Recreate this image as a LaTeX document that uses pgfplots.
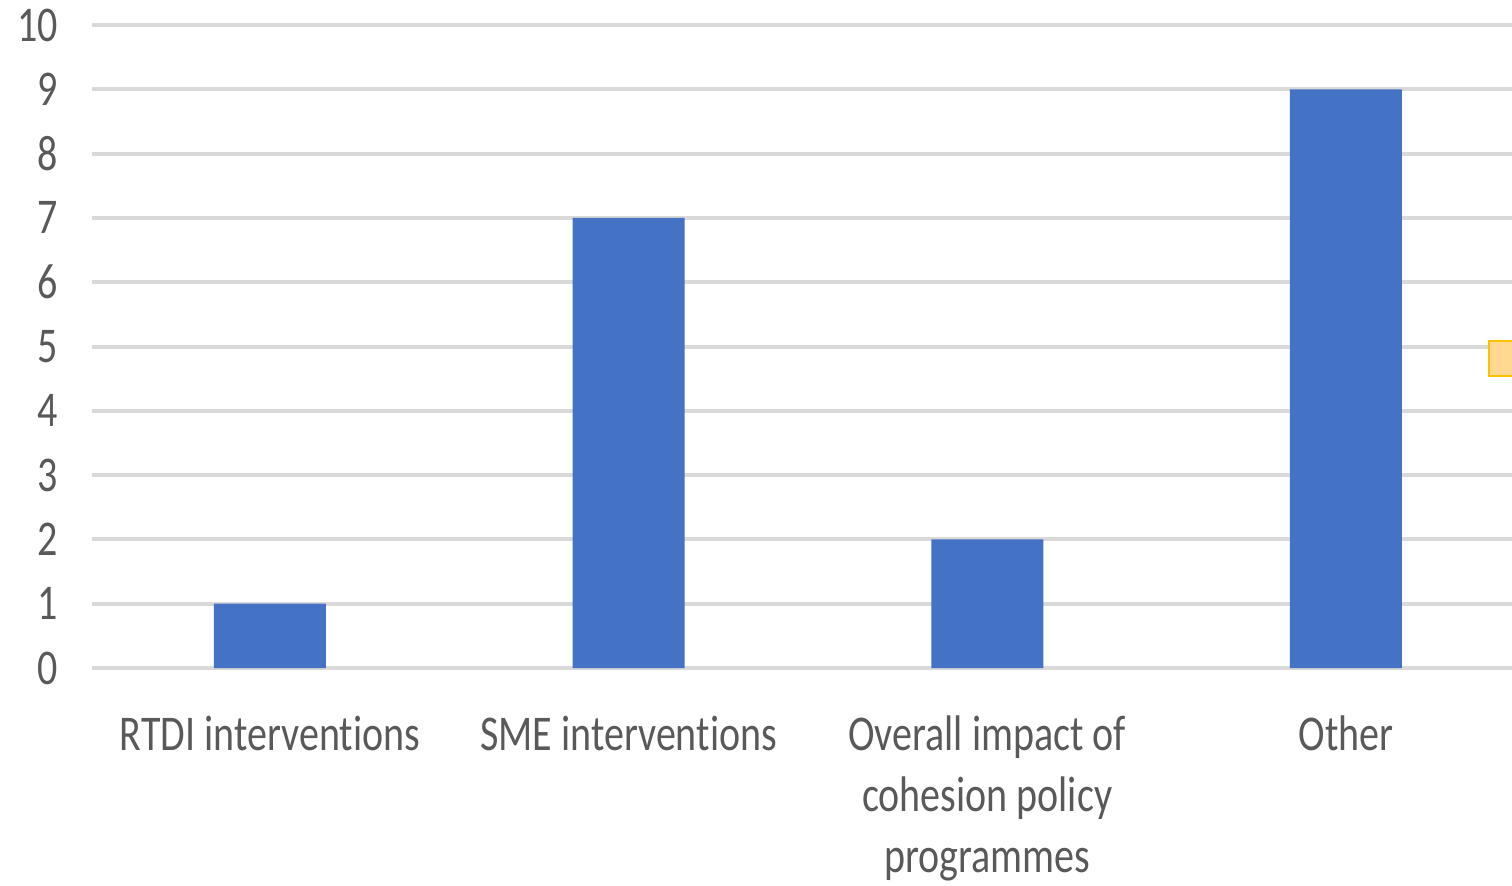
\documentclass[border=0pt]{standalone}
\usepackage{fontspec}
\setmainfont{Carlito}[FakeStretch=0.8, Ligatures=NoCommon]
\usepackage{pgfplots}
\pgfplotsset{compat=1.18}
\usetikzlibrary{calc}
\definecolor{barblue}{HTML}{4472C4}
\definecolor{gridgray}{HTML}{D9D9D9}
\definecolor{txtgray}{HTML}{595959}
\definecolor{legfill}{HTML}{FFD98F}
\definecolor{legedge}{HTML}{FFC000}
\begin{document}
\begin{tikzpicture}
\begin{axis}[
  scale only axis,
  width=710pt, height=321.5pt,
  xmin=-0.496, xmax=3.463,
  ymin=0, ymax=10,
  ytick={0,1,...,10},
  xtick={0,1,2,3},
  xticklabels={RTDI interventions, SME interventions, {Overall impact of\\cohesion policy\\programmes}, Other},
  axis line style={draw=none},
  tick style={draw=none},
  ymajorgrids,
  grid style={gridgray, line width=2pt},
  /pgf/number format/assume math mode=true,
  ticklabel style={font=\fontsize{25}{30.5}\selectfont, text=txtgray},
  yticklabel style={anchor=east, xshift=-13.5pt},
  xticklabel style={align=center, anchor=north, yshift=-20.5pt},
  clip=true,
]
\addplot[ybar, bar width=56pt, fill=barblue, draw=none] coordinates {(0,1) (1,7) (2,2) (3,9)};
\draw[fill=legfill, draw=legedge, line width=1pt] (axis cs:3.399,4.54) rectangle (axis cs:3.6,5.085);
\coordinate (bl) at (rel axis cs:0,0);
\coordinate (tr) at (rel axis cs:1,1);
\end{axis}
\pgfresetboundingbox
\useasboundingbox ($(bl)+(-46pt,-108.5pt)$) rectangle ($(tr)+(0,12.5pt)$);
\end{tikzpicture}
\end{document}
